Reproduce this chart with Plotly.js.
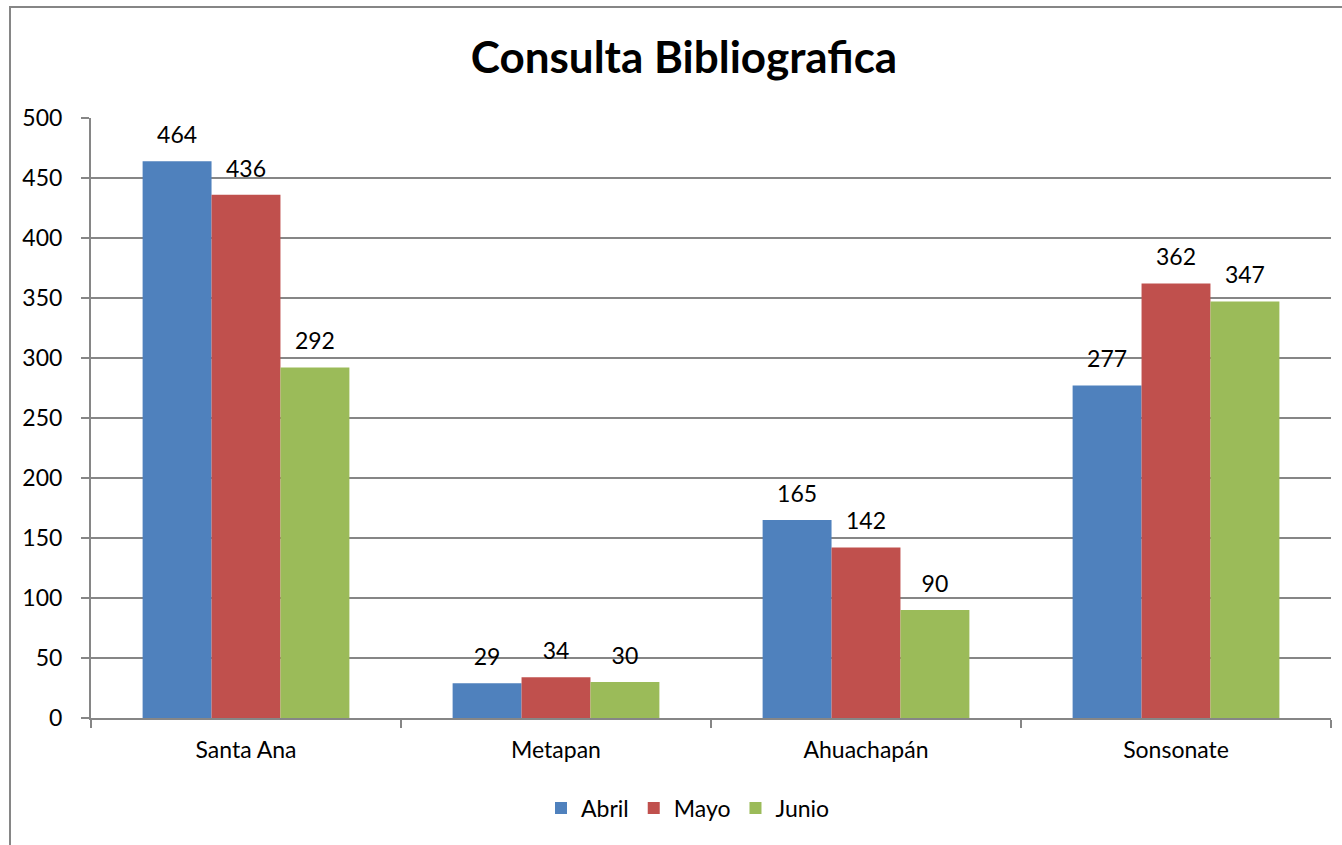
<!DOCTYPE html>
<html>
<head>
<meta charset="utf-8">
<script src="https://cdn.plot.ly/plotly-3.0.1.min.js"></script>
<style>
html,body{margin:0;padding:0;background:#fff;overflow:hidden;}
#wrap{position:relative;width:1342px;height:845px;}
#chart{position:absolute;left:0;top:0;width:1342px;height:845px;}
#frame{position:absolute;left:9px;top:6px;width:1400px;height:900px;border-left:2px solid #868686;border-top:2px solid #868686;pointer-events:none;}
</style>
</head>
<body>
<div id="wrap"><div id="chart"></div><div id="frame"></div></div>
<script>
const categories = ["Santa Ana", "Metapan", "Ahuachapán", "Sonsonate"];
const abril = [464, 29, 165, 277];
const mayo = [436, 34, 142, 362];
const junio = [292, 30, 90, 347];
const seriesNames = ["Abril", "Mayo", "Junio"];
const colors = ["#4F81BD", "#C0504D", "#9BBB59"];
const yTicks = [0, 50, 100, 150, 200, 250, 300, 350, 400, 450, 500];

const fontFam = "Lato, 'Open Sans', sans-serif";
const FS = 23;
const seriesVals = [abril, mayo, junio];
const data = seriesVals.map((vals, i) => ({
  type: 'bar',
  name: seriesNames[i],
  x: categories,
  y: vals,
  marker: {color: colors[i]},
  text: vals.map(v => "<span style='font-size:" + FS + "px'>" + v + "</span><br><span style='font-size:6px'> </span>"),
  textposition: 'outside',
  cliponaxis: false,
  textfont: {family: fontFam, size: 11, color: '#000'},
  hoverinfo: 'none'
}));

const layout = {
  width: 1342, height: 845,
  margin: {l: 91, r: 11, t: 118, b: 127},
  paper_bgcolor: '#fff', plot_bgcolor: '#fff',
  barmode: 'group', bargap: 0.333, bargroupgap: 0,
  font: {family: fontFam, size: FS, color: '#000'},
  title: {text: '<b>Consulta Bibliografica</b>', x: 684/1342, xref: 'container', xanchor: 'center', y: 1 - 58/845, yref: 'container', yanchor: 'middle', font: {family: fontFam, size: 44, color: '#000'}},
  xaxis: {
    type: 'category', showline: true, linecolor: '#868686', linewidth: 2,
    ticks: 'outside', tickson: 'boundaries', ticklen: 8, tickcolor: '#868686', tickwidth: 2,
    showgrid: false, tickfont: {family: fontFam, size: FS, color: '#000'}, ticklabelstandoff: 10
  },
  yaxis: {
    range: [0, 500], tickvals: yTicks, ticktext: yTicks.map(String),
    showline: true, linecolor: '#868686', linewidth: 2,
    ticks: 'outside', ticklen: 8, tickcolor: '#868686', tickwidth: 2,
    showgrid: true, gridcolor: '#868686', gridwidth: 2, zeroline: false,
    tickfont: {family: fontFam, size: FS, color: '#000'}, ticklabelstandoff: 14
  },
  showlegend: true,
  legend: {orientation: 'h', x: 688/1342, xref: 'container', xanchor: 'center', y: 1 - 808/845, yref: 'container', yanchor: 'middle', font: {family: fontFam, size: FS, color: '#000'}, itemwidth: 30, traceorder: 'normal'}
};

Plotly.newPlot('chart', data, layout, {displayModeBar: false, staticPlot: true});
</script>
</body>
</html>
